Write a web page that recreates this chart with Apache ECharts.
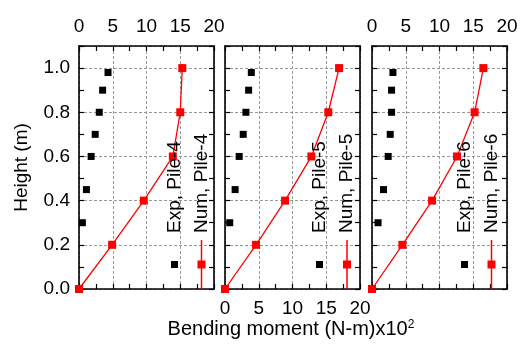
<!DOCTYPE html>
<html><head><meta charset="utf-8">
<script src="https://cdn.jsdelivr.net/npm/echarts@6/dist/echarts.min.js"></script>
<style>html,body{margin:0;padding:0;background:#fff}#c{width:521px;height:345px}</style>
</head><body><div id="c"></div>
<script>
// ---- data ----
const pileNames = ['Pile-4', 'Pile-5', 'Pile-6'];
const expHeights = [0.98, 0.9, 0.8, 0.7, 0.6, 0.45, 0.3];
const exp4 = [4.3, 3.5, 3.0, 2.4, 1.8, 1.1, 0.5];
const exp5 = [3.9, 3.5, 3.1, 2.7, 2.1, 1.5, 0.7];
const exp6 = [3.1, 2.9, 2.9, 2.7, 2.4, 1.7, 0.9];
const numHeights = [1.0, 0.8, 0.6, 0.4, 0.2, 0.0];
const num4 = [15.3, 15.0, 13.9, 9.6, 4.9, 0];
const num5 = [16.9, 15.3, 12.8, 8.9, 4.6, 0];
const num6 = [16.5, 15.2, 12.6, 8.9, 4.5, 0];
const xTicks = [0, 5, 10, 15, 20];
const yTicks = [0.0, 0.2, 0.4, 0.6, 0.8, 1.0];
const xTitle = 'Bending moment (N-m)x10';
const xTitleSup = '2';
const yTitle = 'Height (m)';

const expSets = [exp4, exp5, exp6];
const numSets = [num4, num5, num6];

// ---- layout ----
const FONT = "'Liberation Sans', Arial, sans-serif";
const GRID_TOP = 46, GRID_H = 243, GRID_W = 135;
const LEFTS = [79, 225, 372];
const X_MIN = 0, X_MAX = 20, X_INT = 5;
const Y_MIN = 0, Y_MAX = 1.1;
const topLabels = [true, false, true];
const bottomLabels = [false, true, false];
const legExpX = [95.5, 94.5, 92.5];
const legNumX = [122.5, 122, 119.5];
const LEG_Y = 264.5, LEG_TEXT_Y = 233;

const chart = echarts.init(document.getElementById('c'), null, {renderer: 'canvas'});

const grid = [], xAxis = [], yAxis = [], series = [], graphic = [];
const lblStyle = {fontFamily: FONT, fontSize: 19, color: '#000'};
const fmtX = v => xTicks.indexOf(v) >= 0 ? String(v) : '';
const fmtY = v => {
  const r = Math.round(v * 10) / 10;
  return yTicks.some(t => Math.abs(t - r) < 1e-6) && Math.abs(v - r) < 1e-6 ? r.toFixed(1) : '';
};

for (let i = 0; i < 3; i++) {
  grid.push({left: LEFTS[i], top: GRID_TOP, width: GRID_W, height: GRID_H, containLabel: false});
  const xBase = {
    type: 'value', gridIndex: i, min: X_MIN, max: X_MAX, interval: X_INT,
    axisLine: {show: true, onZero: false, lineStyle: {color: '#000', width: 1.6}},
    axisTick: {show: true, inside: true, length: 5, lineStyle: {color: '#000', width: 1.2}},
    minorTick: {show: true, splitNumber: 2, length: 5, lineStyle: {color: '#000', width: 1.2}},
  };
  xAxis.push(Object.assign({}, xBase, {
    position: 'bottom',
    axisLabel: Object.assign({show: bottomLabels[i], margin: 10, formatter: fmtX}, lblStyle),
    splitLine: {show: true, lineStyle: {color: '#999', width: 1, type: [3, 2]}}
  }));
  xAxis.push(Object.assign({}, xBase, {
    position: 'top',
    axisLabel: Object.assign({show: topLabels[i], margin: 10, formatter: fmtX}, lblStyle),
    splitLine: {show: false}
  }));
  const yBase = {
    type: 'value', gridIndex: i, min: Y_MIN, max: Y_MAX, interval: 0.1,
    axisLine: {show: true, onZero: false, lineStyle: {color: '#000', width: 1.6}},
    axisTick: {show: true, inside: true, length: 5, lineStyle: {color: '#000', width: 1.2}},
    splitLine: {show: false}
  };
  yAxis.push(Object.assign({}, yBase, {
    position: 'left',
    axisLabel: Object.assign({show: i === 0, margin: 9, formatter: fmtY}, lblStyle)
  }));
  yAxis.push(Object.assign({}, yBase, {position: 'right', axisLabel: {show: false}}));
  yAxis.push({
    type: 'value', gridIndex: i, min: Y_MIN, max: Y_MAX, interval: 0.2, position: 'left',
    axisLine: {show: false}, axisTick: {show: false}, axisLabel: {show: false},
    splitLine: {show: true, lineStyle: {color: '#999', width: 1, type: [3, 2]}}
  });

  series.push({
    type: 'scatter', name: 'Exp, ' + pileNames[i], xAxisIndex: 2 * i, yAxisIndex: 3 * i,
    symbol: 'rect', symbolSize: 7, itemStyle: {color: '#000', opacity: 1},
    data: expSets[i].map((v, k) => [v, expHeights[k]]), z: 5
  });
  series.push({
    type: 'line', name: 'Num, ' + pileNames[i], xAxisIndex: 2 * i, yAxisIndex: 3 * i,
    symbol: 'rect', symbolSize: 8, showSymbol: true,
    itemStyle: {color: '#ff0000', opacity: 1}, lineStyle: {color: '#ff0000', width: 1.3},
    data: numSets[i].map((v, k) => [v, numHeights[k]]), z: 4
  });

  // rotated in-plot legend
  const ex = LEFTS[i] + legExpX[i], nx = LEFTS[i] + legNumX[i];
  graphic.push({type: 'rect', shape: {x: ex - 3.5, y: LEG_Y - 3.5, width: 7, height: 7}, style: {fill: '#000'}, z: 10});
  graphic.push({type: 'text', x: ex, y: LEG_TEXT_Y, rotation: Math.PI / 2,
    style: {text: 'Exp, ' + pileNames[i], font: '19px ' + FONT, fill: '#000', align: 'left', verticalAlign: 'middle'}, z: 10});
  graphic.push({type: 'line', shape: {x1: nx, y1: 240, x2: nx, y2: GRID_TOP + GRID_H}, style: {stroke: '#ff0000', lineWidth: 1.5}, z: 10});
  graphic.push({type: 'rect', shape: {x: nx - 4, y: LEG_Y - 4, width: 8, height: 8}, style: {fill: '#ff0000'}, z: 10});
  graphic.push({type: 'text', x: nx, y: LEG_TEXT_Y, rotation: Math.PI / 2,
    style: {text: 'Num, ' + pileNames[i], font: '19px ' + FONT, fill: '#000', align: 'left', verticalAlign: 'middle'}, z: 10});
}

graphic.push({type: 'text', x: 22, y: GRID_TOP + GRID_H / 2, rotation: Math.PI / 2,
  style: {text: yTitle, font: '19px ' + FONT, fill: '#000', align: 'center', verticalAlign: 'middle'}});
graphic.push({type: 'text', x: 291, y: 329,
  style: {text: xTitle + '{sup|' + xTitleSup + '}', font: '20px ' + FONT, fill: '#000',
    align: 'center', verticalAlign: 'middle',
    rich: {sup: {fontSize: 12, fontFamily: FONT, verticalAlign: 'top', lineHeight: 12, padding: [0, 0, 8, 0]}}}});

chart.setOption({
  animation: false,
  backgroundColor: '#fff',
  grid, xAxis, yAxis, series, graphic
});
</script>
</body></html>
